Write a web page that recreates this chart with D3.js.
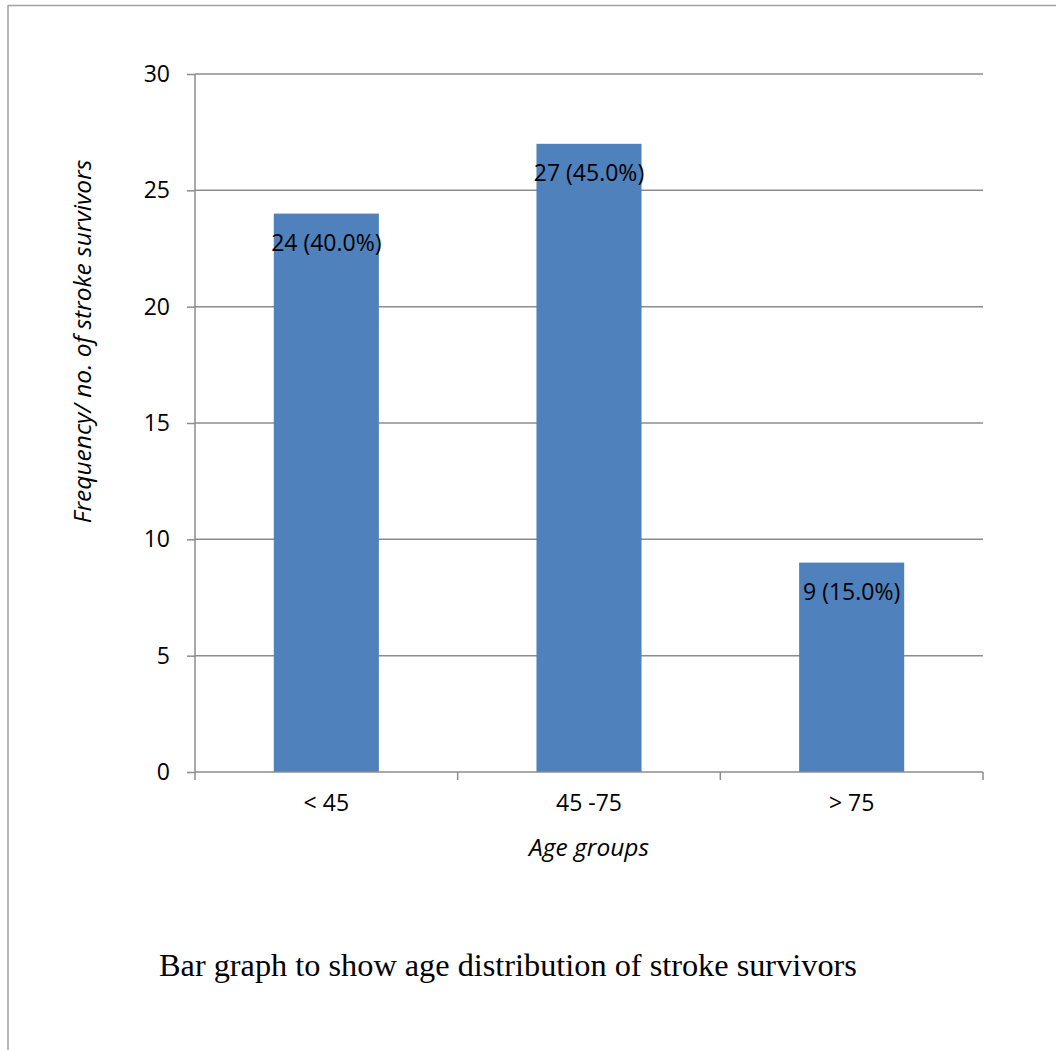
<!DOCTYPE html>
<html>
<head>
<meta charset="utf-8">
<script src="https://cdn.jsdelivr.net/npm/d3@7"></script>
<style>
  html, body { margin: 0; padding: 0; background: #fff; }
  svg { display: block; }
</style>
</head>
<body>
<svg id="chart" width="1056" height="1050"></svg>
<script>
// Age groups and number of stroke survivors in each
const categories = ["< 45", "45 -75", "> 75"];
const counts = [24, 27, 9];
const percents = [40.0, 45.0, 15.0];
const yTicks = [0, 5, 10, 15, 20, 25, 30];

const yTitle = "Frequency/ no. of stroke survivors";
const xTitle = "Age groups";
const caption = "Bar graph to show age distribution of stroke survivors";

const W = 1056, H = 1050;
const plot = { left: 195, right: 983, top: 74, bottom: 772 };
const sans = "'Open Sans', 'Liberation Sans', sans-serif";
const labelSize = 23;
const titleSize = 24.5;
const gridColor = "#8c8c8c";
const barColor = "#4F81BD";

const svg = d3.select("#chart");

// page frame (top and left rule)
svg.append("line").attr("x1", 8).attr("x2", W).attr("y1", 5.5).attr("y2", 5.5)
  .attr("stroke", "#a0a0a0").attr("stroke-width", 1.5);
svg.append("line").attr("x1", 8).attr("x2", 8).attr("y1", 5).attr("y2", H)
  .attr("stroke", "#a0a0a0").attr("stroke-width", 1.5);

const x = d3.scaleBand().domain(categories)
  .range([plot.left, plot.right]).paddingInner(0).paddingOuter(0);
const y = d3.scaleLinear().domain([0, 30]).range([plot.bottom, plot.top]);

// horizontal gridlines
svg.append("g").selectAll("line").data(yTicks.filter(t => t > 0)).join("line")
  .attr("x1", plot.left).attr("x2", plot.right)
  .attr("y1", d => y(d)).attr("y2", d => y(d))
  .attr("stroke", gridColor).attr("stroke-width", 1.5);

// bars
const barW = x.bandwidth() * 0.4;
svg.append("g").selectAll("rect").data(categories).join("rect")
  .attr("x", d => x(d) + (x.bandwidth() - barW) / 2)
  .attr("width", barW)
  .attr("y", (d, i) => y(counts[i]))
  .attr("height", (d, i) => y(0) - y(counts[i]))
  .attr("fill", barColor);

// y axis
const yAxis = svg.append("g").attr("transform", `translate(${plot.left},0)`)
  .call(d3.axisLeft(y).tickValues(yTicks).tickSize(8).tickPadding(17).tickFormat(d3.format("d")));
yAxis.select(".domain").attr("stroke", gridColor).attr("stroke-width", 1.5).attr("d", `M0,${plot.top}V${plot.bottom}`);
yAxis.selectAll(".tick line").attr("stroke", gridColor).attr("stroke-width", 1.5);
yAxis.selectAll(".tick text").attr("font-family", sans).attr("font-size", labelSize).attr("fill", "#000");

// x axis with ticks at category boundaries
const xAxis = svg.append("g").attr("transform", `translate(0,${plot.bottom})`)
  .call(d3.axisBottom(x).tickSize(0).tickPadding(23));
xAxis.select(".domain").attr("stroke", gridColor).attr("stroke-width", 1.5).attr("d", `M${plot.left},0H${plot.right}`);
xAxis.selectAll(".tick text").attr("font-family", sans).attr("font-size", labelSize).attr("fill", "#000");
const bounds = categories.map(c => x(c)).concat([x.range()[1]]);
xAxis.append("g").selectAll("line").data(bounds).join("line")
  .attr("x1", d => d).attr("x2", d => d).attr("y1", 0).attr("y2", 8)
  .attr("stroke", gridColor).attr("stroke-width", 1.5);

// value labels inside the bars
svg.append("g").selectAll("text").data(categories).join("text")
  .attr("x", d => x(d) + x.bandwidth() / 2)
  .attr("y", (d, i) => y(counts[i]) + 29)
  .attr("dy", "0.35em")
  .attr("text-anchor", "middle")
  .attr("font-family", sans).attr("font-size", labelSize).attr("fill", "#000")
  .text((d, i) => `${counts[i]} (${percents[i].toFixed(1)}%)`);

// axis titles
svg.append("text")
  .attr("transform", `translate(91,${(160 + 523) / 2}) rotate(-90)`)
  .attr("text-anchor", "middle")
  .attr("font-family", sans).attr("font-style", "italic").attr("font-size", titleSize).attr("fill", "#000")
  .text(yTitle);
svg.append("text")
  .attr("x", (plot.left + plot.right) / 2).attr("y", 856)
  .attr("text-anchor", "middle")
  .attr("font-family", sans).attr("font-style", "italic").attr("font-size", titleSize).attr("fill", "#000")
  .text(xTitle);

// caption below the chart
svg.append("text")
  .attr("x", 159).attr("y", 976)
  .attr("font-family", "'Liberation Serif', 'Times New Roman', serif")
  .attr("font-size", 32.3).attr("fill", "#000")
  .text(caption);
</script>
</body>
</html>
